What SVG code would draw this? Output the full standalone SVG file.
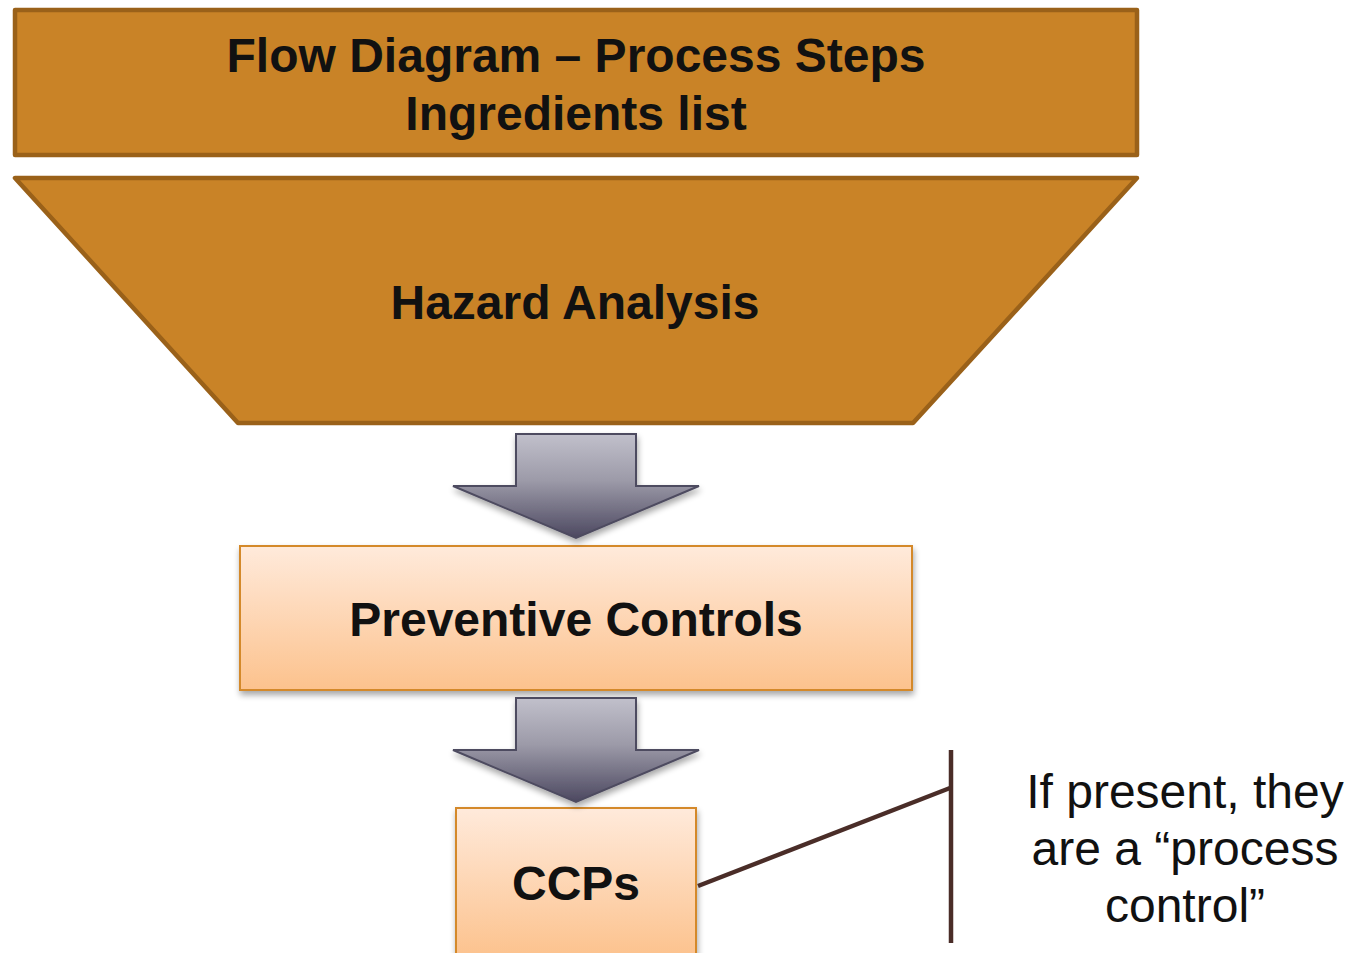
<svg xmlns="http://www.w3.org/2000/svg" width="1353" height="953" viewBox="0 0 1353 953">
  <defs>
    <linearGradient id="arrowFill" x1="0" y1="0" x2="0" y2="1">
      <stop offset="0" stop-color="#c1c0cb"/>
      <stop offset="0.45" stop-color="#9c9aa8"/>
      <stop offset="1" stop-color="#4c4860"/>
    </linearGradient>
    <linearGradient id="peachFill" x1="0" y1="0" x2="0" y2="1">
      <stop offset="0" stop-color="#ffeadb"/>
      <stop offset="1" stop-color="#fcc28d"/>
    </linearGradient>
    <filter id="shadow" x="-10%" y="-10%" width="120%" height="130%">
      <feGaussianBlur in="SourceAlpha" stdDeviation="3"/>
      <feOffset dx="1" dy="4" result="b"/>
      <feComponentTransfer><feFuncA type="linear" slope="0.35"/></feComponentTransfer>
      <feMerge><feMergeNode/><feMergeNode in="SourceGraphic"/></feMerge>
    </filter>
  </defs>
  <style>
    .amber { fill: #c98327; stroke: #9a6119; stroke-width: 4.5; stroke-linejoin: round; }
    .peach { fill: url(#peachFill); stroke: #d4892b; stroke-width: 2; }
    .arrow { fill: url(#arrowFill); stroke: #4e4b60; stroke-width: 2; }
    .head { font-family: "Liberation Sans", Arial, sans-serif; font-weight: bold; font-size: 48px; fill: #111; text-anchor: middle; }
    .note { font-family: "Liberation Sans", Arial, sans-serif; font-size: 48px; fill: #111; text-anchor: middle; }
    .link { stroke: #4a2d28; stroke-width: 4.5; fill: none; }
  </style>

  <g id="flow-diagram">
    <rect class="amber" x="15" y="10" width="1122" height="145"/>
    <text class="head" x="576" y="72">Flow Diagram – Process Steps</text>
    <text class="head" x="576" y="130">Ingredients list</text>
  </g>

  <g id="hazard-analysis">
    <polygon class="amber" points="15,178 1137,178 913,423 238,423"/>
    <text class="head" x="575" y="319">Hazard Analysis</text>
  </g>

  <g id="preventive-controls">
    <rect class="peach" x="240" y="546" width="672" height="144" filter="url(#shadow)"/>
    <text class="head" x="576" y="636">Preventive Controls</text>
  </g>

  <g id="ccps">
    <rect class="peach" x="456" y="808" width="240" height="150" filter="url(#shadow)"/>
    <text class="head" x="576" y="900">CCPs</text>
  </g>

  <g id="note">
    <text class="note" x="1185" y="808">If present, they</text>
    <text class="note" x="1185" y="865">are a “process</text>
    <text class="note" x="1185" y="922">control”</text>
  </g>

  <g id="connectors">
    <polygon class="arrow" filter="url(#shadow)" points="516,434 636,434 636,486 699,486 576,538 453,486 516,486"/>
    <polygon class="arrow" filter="url(#shadow)" points="516,698 636,698 636,750 699,750 576,802 453,750 516,750"/>
    <line class="link" x1="698" y1="886" x2="950" y2="788"/>
    <line class="link" x1="951" y1="750" x2="951" y2="943"/>
  </g>
</svg>
